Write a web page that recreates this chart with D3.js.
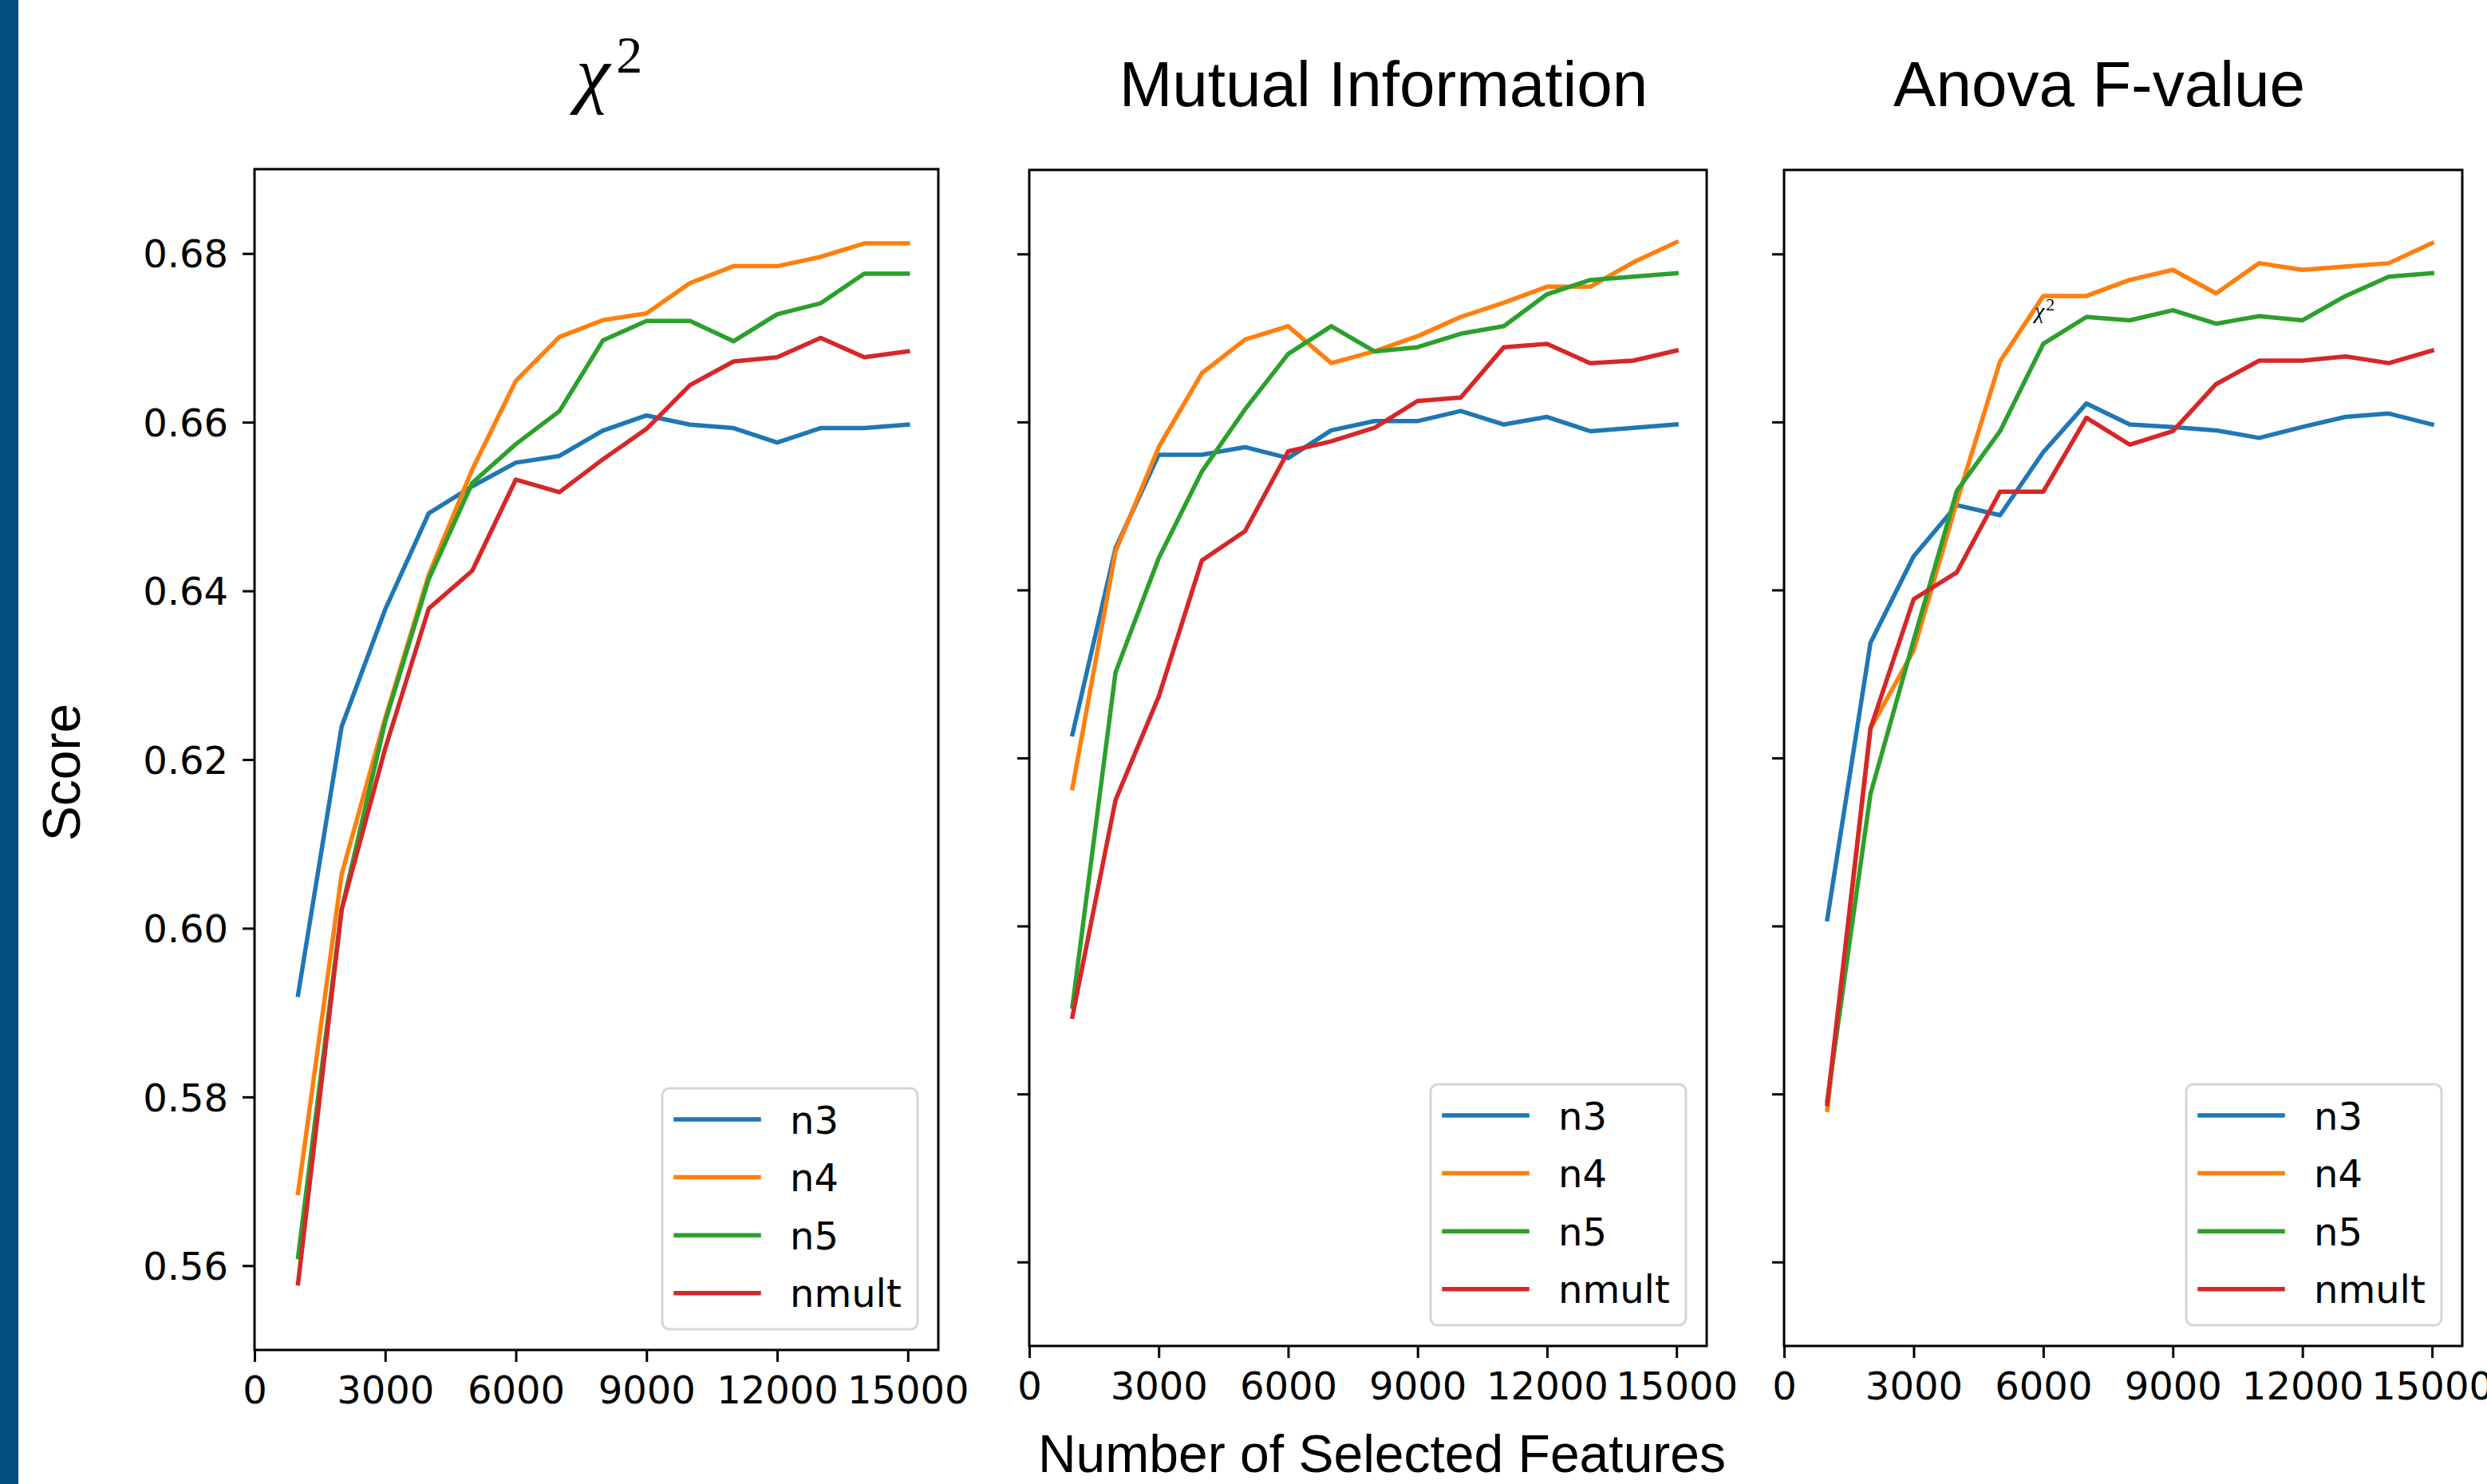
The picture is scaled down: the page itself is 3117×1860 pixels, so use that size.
<!DOCTYPE html>
<html>
<head>
<meta charset="utf-8">
<script src="https://cdn.jsdelivr.net/npm/d3@7"></script>
<style>
  html, body { margin: 0; padding: 0; background: #ffffff; }
  svg { display: block; }
</style>
</head>
<body>
<svg id="chart" width="3117" height="1860"></svg>
<script>
// ---------------- DATA ----------------
const features = [1000, 2000, 3000, 4000, 5000, 6000, 7000, 8000, 9000, 10000, 11000, 12000, 13000, 14000, 15000];
const seriesNames = ["n3", "n4", "n5", "nmult"];
const panelTitles = ["χ2", "Mutual Information", "Anova F-value"];
const xTickValues = [0, 3000, 6000, 9000, 12000, 15000];
const yTickValues = [0.56, 0.58, 0.60, 0.62, 0.64, 0.66, 0.68];

// Chi-square panel
const chi2_n3    = [0.5921, 0.6239, 0.6378, 0.6492, 0.6524, 0.6552, 0.6560, 0.6590, 0.6608, 0.6597, 0.6593, 0.6576, 0.6593, 0.6593, 0.6597];
const chi2_n4    = [0.5686, 0.6064, 0.6249, 0.6419, 0.6544, 0.6649, 0.6701, 0.6721, 0.6729, 0.6765, 0.6785, 0.6785, 0.6796, 0.6812, 0.6812];
const chi2_n5    = [0.5610, 0.6022, 0.6245, 0.6414, 0.6528, 0.6574, 0.6613, 0.6697, 0.6720, 0.6720, 0.6696, 0.6728, 0.6741, 0.6776, 0.6776];
const chi2_nmult = [0.5579, 0.6022, 0.6213, 0.6379, 0.6424, 0.6532, 0.6517, 0.6556, 0.6592, 0.6644, 0.6672, 0.6677, 0.6700, 0.6677, 0.6684];

// Mutual information panel
const mi_n3    = [0.6228, 0.6450, 0.6561, 0.6561, 0.6570, 0.6557, 0.6590, 0.6601, 0.6601, 0.6613, 0.6597, 0.6606, 0.6589, 0.6593, 0.6597];
const mi_n4    = [0.6164, 0.6446, 0.6570, 0.6658, 0.6698, 0.6714, 0.6670, 0.6684, 0.6702, 0.6725, 0.6742, 0.6761, 0.6761, 0.6790, 0.6814];
const mi_n5    = [0.5904, 0.6302, 0.6438, 0.6541, 0.6615, 0.6681, 0.6714, 0.6684, 0.6689, 0.6705, 0.6714, 0.6752, 0.6769, 0.6773, 0.6777];
const mi_nmult = [0.5892, 0.6150, 0.6273, 0.6435, 0.6470, 0.6565, 0.6577, 0.6593, 0.6625, 0.6629, 0.6689, 0.6693, 0.6670, 0.6673, 0.6685];

// Anova F-value panel
const anova_n3    = [0.6008, 0.6337, 0.6440, 0.6501, 0.6489, 0.6564, 0.6622, 0.6597, 0.6594, 0.6590, 0.6581, 0.6594, 0.6606, 0.6610, 0.6597];
const anova_n4    = [0.5781, 0.6235, 0.6328, 0.6505, 0.6672, 0.6750, 0.6750, 0.6769, 0.6781, 0.6753, 0.6789, 0.6781, 0.6785, 0.6789, 0.6813];
const anova_n5    = [0.5792, 0.6157, 0.6340, 0.6518, 0.6589, 0.6693, 0.6725, 0.6721, 0.6733, 0.6717, 0.6726, 0.6721, 0.6750, 0.6773, 0.6777];
const anova_nmult = [0.5788, 0.6235, 0.6389, 0.6421, 0.6517, 0.6517, 0.6605, 0.6573, 0.6589, 0.6645, 0.6673, 0.6673, 0.6678, 0.6670, 0.6685];

const xLabel = "Number of Selected Features";
const yLabel = "Score";

// ---------------- LAYOUT / STYLE ----------------
const colors = ["#1f77b4", "#ff7f0e", "#2ca02c", "#d62728"];
const panelData = [
  [chi2_n3, chi2_n4, chi2_n5, chi2_nmult],
  [mi_n3, mi_n4, mi_n5, mi_nmult],
  [anova_n3, anova_n4, anova_n5, anova_nmult]
];
const panels = [
  { left: 319,  right: 1176, top: 212, bottom: 1692, titleX: 763 },
  { left: 1290, right: 2139, top: 213, bottom: 1687, titleX: 1734 },
  { left: 2236, right: 3086, top: 213, bottom: 1687, titleX: 2631 }
];
const tickFont = "'DejaVu Sans', sans-serif";
const labelFont = "'Liberation Sans', Arial, Helvetica, sans-serif";
const serifFont = "'Liberation Serif', 'Times New Roman', serif";

const svg = d3.select("#chart");

// left blue band
svg.append("rect").attr("x", 0).attr("y", 0).attr("width", 23).attr("height", 1860).attr("fill", "#024f80");

panels.forEach((p, pi) => {
  const x = d3.scaleLinear().domain([0, 15700]).range([p.left, p.right]);
  const y = d3.scaleLinear().domain([0.55, 0.69]).range([p.bottom, p.top]);
  const g = svg.append("g");

  // lines
  const line = d3.line().x((d, i) => x(features[i])).y(d => y(d));
  panelData[pi].forEach((vals, si) => {
    g.append("path")
      .datum(vals)
      .attr("d", line)
      .attr("fill", "none")
      .attr("stroke", colors[si])
      .attr("stroke-width", 5.5)
      .attr("stroke-linejoin", "round")
      .attr("stroke-linecap", "square");
  });

  // axes
  const xAxis = d3.axisBottom(x).tickValues(xTickValues).tickSize(15).tickPadding(18).tickFormat(d3.format("d"));
  const yAxis = d3.axisLeft(y).tickValues(yTickValues).tickSize(15).tickPadding(18)
    .tickFormat(pi === 0 ? d3.format(".2f") : () => "");

  const gx = g.append("g").attr("transform", `translate(0,${p.bottom})`).call(xAxis);
  const gy = g.append("g").attr("transform", `translate(${p.left},0)`).call(yAxis);
  [gx, gy].forEach(ax => {
    ax.select(".domain").remove();
    ax.selectAll(".tick line").attr("stroke", "#000").attr("stroke-width", 3);
    ax.selectAll(".tick text").attr("font-family", tickFont).attr("font-size", 48).attr("fill", "#000");
  });
  gy.selectAll(".tick text").attr("dy", "0.36em");

  // frame
  g.append("rect")
    .attr("x", p.left).attr("y", p.top)
    .attr("width", p.right - p.left).attr("height", p.bottom - p.top)
    .attr("fill", "none").attr("stroke", "#000").attr("stroke-width", 3);

  // legend
  const lw = 320, lh = 302;
  const lx = p.right - 26 - lw, ly = p.bottom - 26 - lh;
  const lg = g.append("g").attr("transform", `translate(${lx},${ly})`);
  lg.append("rect").attr("width", lw).attr("height", lh).attr("rx", 9).attr("ry", 9)
    .attr("fill", "#fff").attr("fill-opacity", 0.8).attr("stroke", "#d6d6d6").attr("stroke-width", 3);
  seriesNames.forEach((name, si) => {
    const ry = 39 + si * 72.6;
    lg.append("line").attr("x1", 17).attr("x2", 121).attr("y1", ry).attr("y2", ry)
      .attr("stroke", colors[si]).attr("stroke-width", 5.5).attr("stroke-linecap", "square");
    lg.append("text").attr("x", 160).attr("y", ry + 17.5).text(name)
      .attr("font-family", tickFont).attr("font-size", 48).attr("fill", "#000");
  });

  // titles
  if (pi === 0) {
    const t = svg.append("text").attr("x", 722).attr("y", 124).attr("font-family", serifFont).attr("fill", "#000");
    t.append("tspan").attr("font-style", "italic").attr("font-size", 96).text(panelTitles[0].charAt(0));
    t.append("tspan").attr("font-size", 66).attr("dy", -33).attr("dx", 8).text(panelTitles[0].charAt(1));
  } else {
    svg.append("text").attr("x", p.titleX).attr("y", 133).attr("text-anchor", "middle")
      .attr("font-family", labelFont).attr("font-size", 80).attr("fill", "#000").text(panelTitles[pi]);
  }
});

// stray chi-square annotation inside the third panel
const ann = svg.append("text").attr("x", 2550).attr("y", 399).attr("font-family", serifFont).attr("fill", "#000");
ann.append("tspan").attr("font-style", "italic").attr("font-size", 28).text(panelTitles[0].charAt(0));
ann.append("tspan").attr("font-size", 22).attr("dy", -10).attr("dx", 2).text(panelTitles[0].charAt(1));

// axis labels
svg.append("text").attr("x", 1732).attr("y", 1845).attr("text-anchor", "middle")
  .attr("font-family", labelFont).attr("font-size", 66).attr("fill", "#000").text(xLabel);
svg.append("text").attr("transform", "translate(100,968) rotate(-90)").attr("text-anchor", "middle")
  .attr("font-family", labelFont).attr("font-size", 66).attr("fill", "#000").text(yLabel);
</script>
</body>
</html>
